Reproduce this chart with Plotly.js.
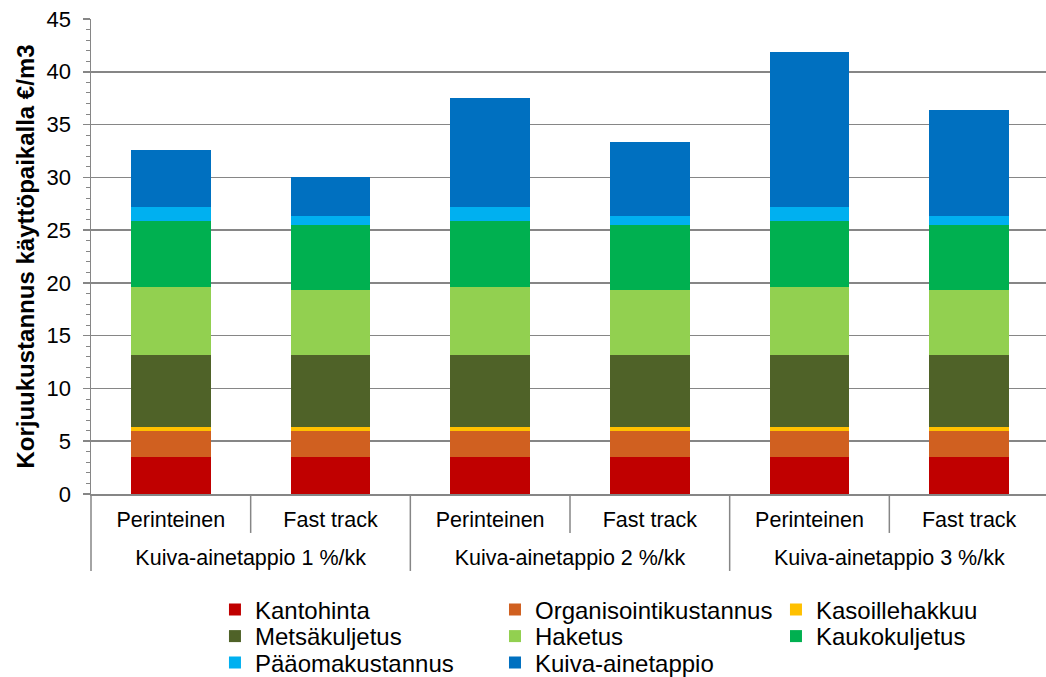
<!DOCTYPE html>
<html>
<head>
<meta charset="utf-8">
<script src="https://cdn.plot.ly/plotly-3.0.1.min.js"></script>
<style>
  html, body { margin: 0; padding: 0; background: #ffffff; overflow: hidden; }
  #chart { width: 1049px; height: 677px; }
</style>
</head>
<body>
<div id="chart"></div>
<script>
// Harvest cost at the point of use (€/m3), stacked by cost component,
// for two supply chains under three dry-matter loss rates.
const lossGroups = [
  'Kuiva-ainetappio 1 %/kk', 'Kuiva-ainetappio 1 %/kk',
  'Kuiva-ainetappio 2 %/kk', 'Kuiva-ainetappio 2 %/kk',
  'Kuiva-ainetappio 3 %/kk', 'Kuiva-ainetappio 3 %/kk'
];
const chains = ['Perinteinen', 'Fast track', 'Perinteinen', 'Fast track', 'Perinteinen', 'Fast track'];
const groupLabels = ['Kuiva-ainetappio 1 %/kk', 'Kuiva-ainetappio 2 %/kk', 'Kuiva-ainetappio 3 %/kk'];

const kantohinta      = [3.5, 3.5, 3.5, 3.5, 3.5, 3.5];
const organisointi    = [2.5, 2.5, 2.5, 2.5, 2.5, 2.5];
const kasoillehakkuu  = [0.35, 0.35, 0.35, 0.35, 0.35, 0.35];
const metsakuljetus   = [6.8, 6.8, 6.8, 6.8, 6.8, 6.8];
const haketus         = [6.47, 6.13, 6.47, 6.13, 6.47, 6.13];
const kaukokuljetus   = [6.2, 6.2, 6.2, 6.2, 6.2, 6.2];
const paaomakustannus = [1.35, 0.9, 1.35, 0.9, 1.35, 0.9];
const kuivaainetappio = [5.43, 3.66, 10.35, 7.0, 14.71, 9.98];

const seriesNames = ['Kantohinta', 'Organisointikustannus', 'Kasoillehakkuu', 'Metsäkuljetus',
                     'Haketus', 'Kaukokuljetus', 'Pääomakustannus', 'Kuiva-ainetappio'];
const seriesValues = [kantohinta, organisointi, kasoillehakkuu, metsakuljetus,
                      haketus, kaukokuljetus, paaomakustannus, kuivaainetappio];
const seriesColors = ['#C00000', '#D06020', '#FFC000', '#4F6228',
                      '#92D050', '#00B050', '#00B0F0', '#0070C0'];

const FONT = 'Liberation Sans, Arial, sans-serif';
const AXIS_GREY = '#868686';
const TRANSPARENT = 'rgba(0,0,0,0)';

// Legend: three columns, filled row by row, one legend box per entry
const LEGEND_COLS = [0.1294, 0.4217, 0.7150];
const LEGEND_ROWS = [-0.2442, -0.3, -0.3558];
const legendKey = i => (i === 0 ? 'legend' : 'legend' + (i + 1));

const traces = seriesNames.map((name, i) => ({
  type: 'bar',
  name: name,
  x: [lossGroups, chains],
  y: seriesValues[i],
  legend: legendKey(i),
  marker: { color: seriesColors[i], line: { width: 0 } },
  hovertemplate: name + ': %{y}<extra></extra>'
}));

// empty carriers so the two label axes (chain row, loss-rate row) get drawn
traces.push({
  type: 'scatter', mode: 'markers', xaxis: 'x2', yaxis: 'y',
  x: chains.map((_, i) => i), y: chains.map(() => null),
  showlegend: false, hoverinfo: 'skip'
});
traces.push({
  type: 'scatter', mode: 'markers', xaxis: 'x3', yaxis: 'y',
  x: groupLabels.map((_, i) => i), y: groupLabels.map(() => null),
  showlegend: false, hoverinfo: 'skip'
});

// vertical separators below the category axis
const separators = [];
for (let k = 0; k <= chains.length; k++) {
  const groupEdge = k % 2 === 0;
  separators.push({
    type: 'line', xref: 'paper', yref: 'paper',
    x0: k / chains.length, x1: k / chains.length,
    y0: 0, y1: groupEdge ? -0.162 : -0.082,
    line: { color: AXIS_GREY, width: 1.5 }
  });
}

const labelAxis = (labels, ticklen) => ({
  overlaying: 'x',
  anchor: 'y',
  side: 'bottom',
  type: 'linear',
  range: [-0.5, labels.length - 0.5],
  autorange: false,
  tickmode: 'array',
  tickvals: labels.map((_, i) => i),
  ticktext: labels,
  ticks: 'outside',
  ticklen: ticklen,
  tickcolor: TRANSPARENT,
  showline: false,
  showgrid: false,
  zeroline: false,
  tickfont: { family: FONT, size: 21.5, color: '#000000' },
  fixedrange: true
});

const layout = {
  width: 1049,
  height: 677,
  margin: { l: 91, r: 0, t: 19, b: 183, autoexpand: false },
  paper_bgcolor: '#ffffff',
  plot_bgcolor: '#ffffff',
  barmode: 'stack',
  bargap: 0.5,
  font: { family: FONT, size: 21, color: '#000000' },
  showlegend: true,
  xaxis: {
    type: 'multicategory',
    showline: true,
    linecolor: AXIS_GREY,
    linewidth: 1.5,
    ticks: '',
    showticklabels: false,
    showdividers: false,
    showgrid: false,
    fixedrange: true
  },
  xaxis2: labelAxis(chains, 6),
  xaxis3: labelAxis(groupLabels, 44),
  yaxis: {
    range: [0, 45],
    dtick: 5,
    showline: true,
    linecolor: AXIS_GREY,
    linewidth: 1.5,
    ticks: 'outside',
    ticklen: 7,
    tickcolor: AXIS_GREY,
    tickwidth: 1.5,
    ticklabelstandoff: 7,
    showgrid: true,
    gridcolor: AXIS_GREY,
    gridwidth: 1.5,
    zeroline: false,
    minor: { dtick: 1, ticks: 'outside', ticklen: 4, tickcolor: AXIS_GREY, tickwidth: 1, showgrid: false },
    tickfont: { family: FONT, size: 22, color: '#000000' },
    title: {
      text: 'Korjuukustannus käyttöpaikalla €/m3',
      font: { family: FONT, size: 24, color: '#000000', weight: 'bold' },
      standoff: 5
    },
    fixedrange: true
  },
  shapes: separators
};

seriesNames.forEach((_, i) => {
  layout[legendKey(i)] = {
    orientation: 'v',
    x: LEGEND_COLS[i % 3], xanchor: 'left',
    y: LEGEND_ROWS[Math.floor(i / 3)], yanchor: 'middle',
    bgcolor: TRANSPARENT,
    borderwidth: 0,
    itemwidth: 30,
    font: { family: FONT, size: 24, color: '#000000' }
  };
});

Plotly.newPlot('chart', traces, layout, { displayModeBar: false, staticPlot: true });
</script>
</body>
</html>
